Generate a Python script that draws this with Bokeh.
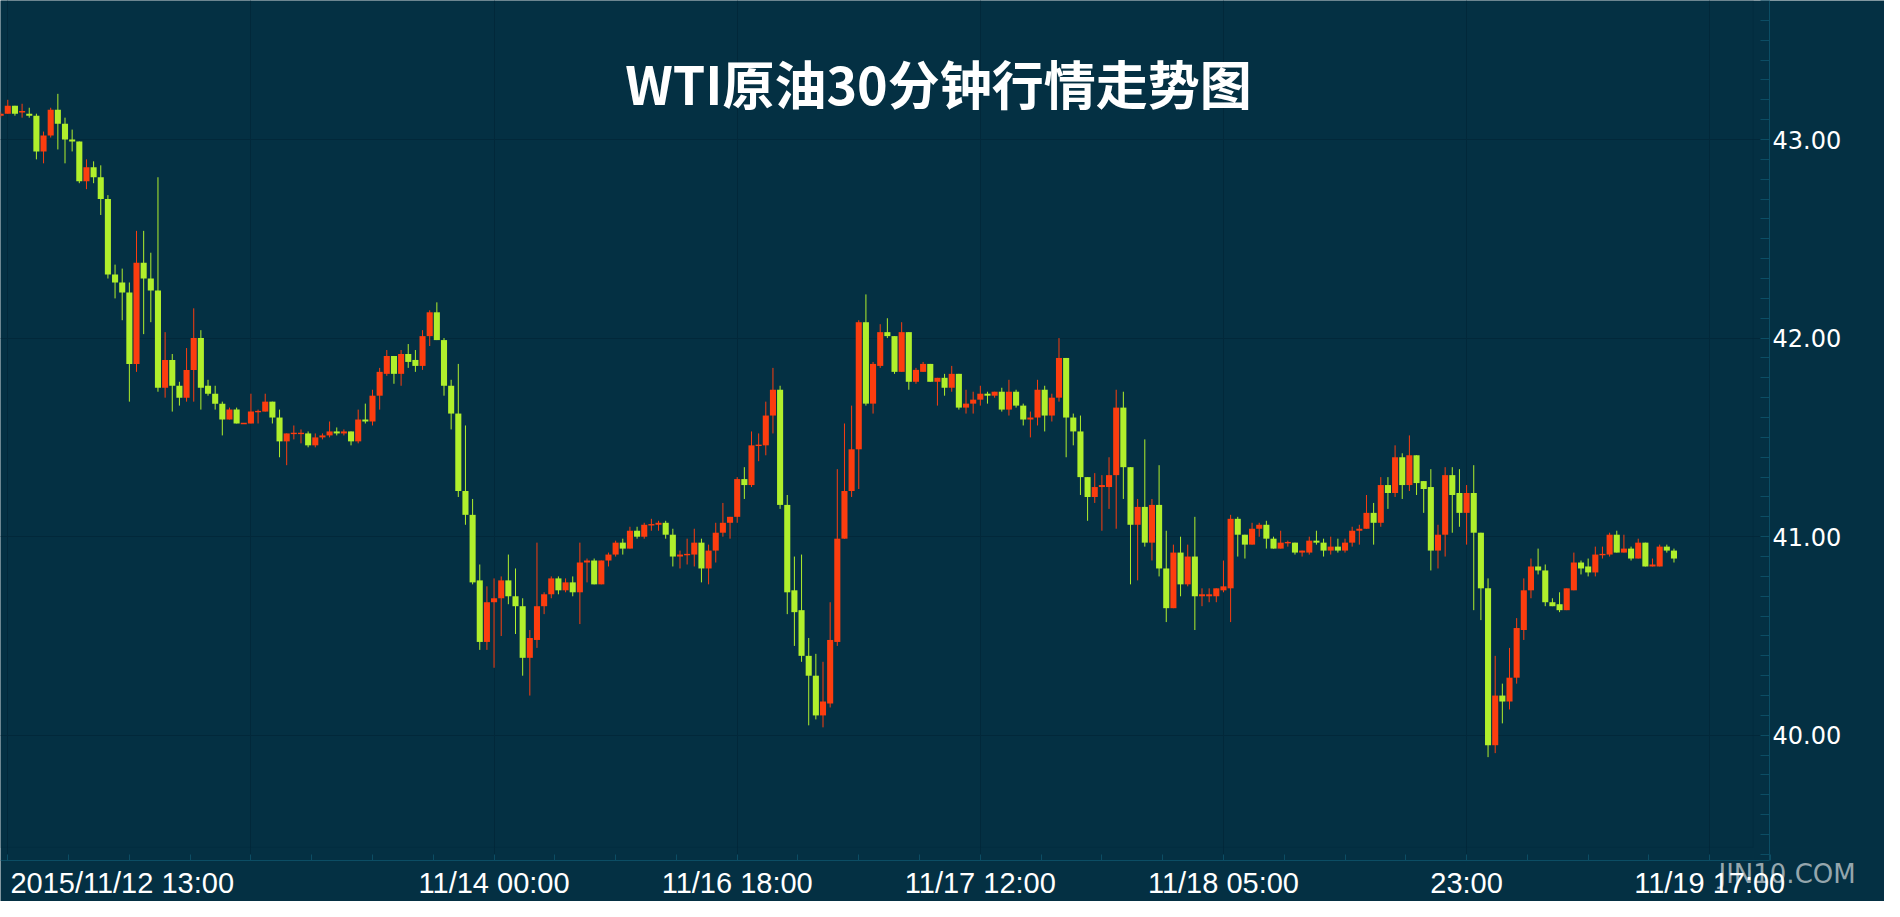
from bokeh.plotting import figure
from bokeh.models import Range1d, FixedTicker, BoxAnnotation, Label, ColumnDataSource, Grid
from bokeh.embed import file_html
from bokeh.resources import INLINE

# ---------------- data (30-minute candles, index -1 .. 233) ----------------
first_index = -1
open_ = [
    43.12, 43.13, 43.17, 43.14, 43.13, 43.12, 42.94, 43.02, 43.15, 43.08,
    43.00, 42.99, 42.79, 42.86, 42.81, 42.70, 42.32, 42.28, 42.23, 41.87,
    42.38, 42.30, 42.24, 41.75, 41.89, 41.76, 41.70, 41.84, 42.00, 41.76,
    41.72, 41.67, 41.59, 41.64, 41.57, 41.57, 41.63, 41.63, 41.68, 41.60,
    41.48, 41.52, 41.52, 41.52, 41.46, 41.50, 41.51, 41.53, 41.52, 41.53,
    41.48, 41.59, 41.58, 41.71, 41.82, 41.91, 41.82, 41.92, 41.89, 41.86,
    42.01, 42.13, 41.99, 41.76, 41.62, 41.23, 41.11, 40.78, 40.47, 40.67,
    40.69, 40.78, 40.70, 40.65, 40.39, 40.48, 40.65, 40.71, 40.79, 40.73,
    40.77, 40.72, 40.87, 40.88, 40.76, 40.88, 40.91, 40.97, 40.94, 41.03,
    41.00, 41.06, 41.06, 41.07, 41.01, 40.90, 40.91, 40.91, 40.97, 40.84,
    40.93, 41.02, 41.07, 41.10, 41.29, 41.26, 41.46, 41.46, 41.61, 41.74,
    41.16, 40.73, 40.63, 40.40, 40.30, 40.10, 40.16, 40.47, 40.99, 41.23,
    41.44, 42.08, 41.67, 41.86, 42.03, 42.01, 41.83, 42.03, 41.78, 41.83,
    41.87, 41.78, 41.80, 41.75, 41.82, 41.65, 41.67, 41.69, 41.72, 41.71,
    41.73, 41.64, 41.73, 41.66, 41.59, 41.60, 41.74, 41.61, 41.70, 41.90,
    41.60, 41.53, 41.30, 41.20, 41.25, 41.25, 41.31, 41.65, 41.35, 41.06,
    41.15, 40.97, 41.16, 40.84, 40.64, 40.92, 40.76, 40.90, 40.70, 40.70,
    40.70, 40.73, 40.74, 41.09, 41.01, 40.96, 41.04, 41.06, 40.99, 40.94,
    40.97, 40.97, 40.92, 40.92, 40.98, 40.97, 40.93, 40.95, 40.93, 40.97,
    41.03, 41.04, 41.12, 41.07, 41.26, 41.22, 41.40, 41.26, 41.41, 41.28,
    41.25, 40.93, 41.01, 41.31, 41.22, 41.12, 41.22, 41.02, 40.74, 39.95,
    40.20, 40.17, 40.29, 40.53, 40.73, 40.85, 40.83, 40.67, 40.66, 40.63,
    40.73, 40.87, 40.85, 40.82, 40.91, 40.91, 41.01, 40.92, 40.94, 40.89,
    40.97, 40.85, 40.85, 40.95, 40.93,
]
high = [
    43.14, 43.20, 43.17, 43.18, 43.16, 43.13, 43.04, 43.16, 43.23, 43.11,
    43.05, 42.99, 42.90, 42.89, 42.87, 42.72, 42.37, 42.35, 42.28, 42.54,
    42.54, 42.43, 42.81, 42.03, 41.92, 41.78, 41.95, 42.15, 42.04, 41.79,
    41.76, 41.68, 41.65, 41.65, 41.57, 41.72, 41.64, 41.72, 41.68, 41.64,
    41.52, 41.56, 41.54, 41.53, 41.52, 41.52, 41.58, 41.55, 41.54, 41.53,
    41.64, 41.67, 41.74, 41.85, 41.94, 41.91, 41.94, 41.97, 41.94, 42.04,
    42.14, 42.18, 42.00, 41.79, 41.87, 41.56, 41.19, 40.86, 40.75, 40.79,
    40.80, 40.91, 40.84, 40.69, 40.53, 40.97, 40.72, 40.80, 40.80, 40.79,
    40.80, 40.97, 40.89, 40.89, 40.88, 40.92, 40.98, 40.99, 41.05, 41.05,
    41.07, 41.09, 41.08, 41.08, 41.04, 40.93, 40.99, 41.04, 40.99, 40.96,
    41.07, 41.17, 41.10, 41.30, 41.35, 41.53, 41.52, 41.68, 41.85, 41.76,
    41.21, 40.90, 40.91, 40.49, 40.41, 40.37, 40.67, 41.34, 41.57, 41.66,
    42.09, 42.22, 41.88, 42.07, 42.10, 42.01, 42.08, 42.03, 41.85, 41.88,
    41.87, 41.80, 41.82, 41.86, 41.82, 41.74, 41.73, 41.76, 41.73, 41.73,
    41.75, 41.79, 41.74, 41.67, 41.63, 41.79, 41.76, 41.72, 42.00, 41.90,
    41.62, 41.61, 41.30, 41.32, 41.31, 41.40, 41.74, 41.73, 41.35, 41.19,
    41.49, 41.19, 41.36, 41.03, 40.96, 41.00, 40.96, 41.10, 40.74, 40.74,
    40.74, 40.88, 41.11, 41.10, 41.01, 41.07, 41.07, 41.08, 41.00, 41.03,
    40.98, 40.97, 40.93, 41.00, 41.03, 40.99, 41.00, 40.99, 40.99, 41.05,
    41.06, 41.21, 41.17, 41.30, 41.30, 41.46, 41.42, 41.51, 41.41, 41.28,
    41.34, 41.06, 41.35, 41.35, 41.34, 41.26, 41.36, 41.02, 40.79, 40.40,
    40.26, 40.44, 40.59, 40.79, 40.89, 40.94, 40.86, 40.69, 40.72, 40.74,
    40.92, 40.88, 40.89, 40.95, 40.95, 41.02, 41.03, 41.01, 40.95, 40.99,
    40.97, 40.89, 40.96, 40.96, 40.94,
]
low = [
    43.11, 43.13, 43.12, 43.11, 43.11, 42.90, 42.88, 43.01, 42.95, 42.88,
    42.94, 42.78, 42.75, 42.78, 42.62, 42.30, 42.20, 42.09, 41.68, 41.83,
    42.02, 42.08, 41.73, 41.70, 41.63, 41.66, 41.68, 41.68, 41.64, 41.71,
    41.64, 41.51, 41.59, 41.57, 41.57, 41.57, 41.57, 41.63, 41.57, 41.40,
    41.36, 41.49, 41.47, 41.45, 41.45, 41.49, 41.50, 41.51, 41.51, 41.46,
    41.47, 41.57, 41.56, 41.64, 41.81, 41.77, 41.76, 41.85, 41.83, 41.84,
    41.96, 41.99, 41.71, 41.54, 41.20, 41.06, 40.76, 40.43, 40.43, 40.34,
    40.50, 40.66, 40.51, 40.30, 40.20, 40.44, 40.61, 40.69, 40.71, 40.72,
    40.70, 40.56, 40.77, 40.76, 40.76, 40.85, 40.90, 40.91, 40.94, 40.99,
    40.99, 41.03, 41.03, 40.99, 40.85, 40.84, 40.86, 40.85, 40.77, 40.76,
    40.87, 41.00, 40.99, 41.07, 41.19, 41.25, 41.38, 41.41, 41.52, 41.14,
    40.61, 40.45, 40.37, 40.05, 40.08, 40.04, 40.14, 40.45, 40.99, 41.20,
    41.24, 41.66, 41.62, 41.85, 42.00, 41.82, 41.83, 41.74, 41.77, 41.83,
    41.78, 41.66, 41.71, 41.73, 41.64, 41.62, 41.62, 41.66, 41.67, 41.70,
    41.63, 41.61, 41.65, 41.56, 41.50, 41.56, 41.53, 41.58, 41.68, 41.40,
    41.46, 41.21, 41.08, 41.17, 41.03, 41.14, 41.04, 41.19, 40.76, 40.78,
    40.95, 40.88, 40.80, 40.57, 40.64, 40.70, 40.75, 40.53, 40.65, 40.67,
    40.67, 40.72, 40.57, 40.90, 40.89, 40.96, 41.00, 40.94, 40.94, 40.94,
    40.95, 40.91, 40.90, 40.91, 40.96, 40.90, 40.91, 40.92, 40.92, 40.95,
    40.96, 41.04, 40.96, 41.05, 41.14, 41.20, 41.19, 41.23, 41.21, 41.12,
    40.83, 40.84, 40.90, 41.02, 41.05, 40.96, 40.63, 40.58, 39.89, 39.91,
    40.06, 40.13, 40.26, 40.48, 40.69, 40.81, 40.65, 40.65, 40.62, 40.63,
    40.73, 40.81, 40.80, 40.80, 40.89, 40.90, 40.92, 40.92, 40.88, 40.89,
    40.85, 40.85, 40.85, 40.92, 40.87,
]
close = [
    43.13, 43.17, 43.13, 43.14, 43.12, 42.94, 43.02, 43.15, 43.08, 43.00,
    42.99, 42.79, 42.86, 42.81, 42.70, 42.32, 42.28, 42.23, 41.87, 42.38,
    42.30, 42.24, 41.75, 41.89, 41.76, 41.70, 41.84, 42.00, 41.75, 41.72,
    41.67, 41.59, 41.64, 41.57, 41.57, 41.63, 41.63, 41.68, 41.60, 41.48,
    41.52, 41.52, 41.52, 41.46, 41.50, 41.51, 41.53, 41.52, 41.53, 41.48,
    41.59, 41.58, 41.71, 41.83, 41.91, 41.82, 41.92, 41.88, 41.86, 42.01,
    42.13, 41.99, 41.76, 41.62, 41.23, 41.11, 40.77, 40.47, 40.67, 40.69,
    40.78, 40.70, 40.65, 40.39, 40.49, 40.65, 40.71, 40.79, 40.73, 40.77,
    40.72, 40.87, 40.88, 40.76, 40.88, 40.91, 40.97, 40.94, 41.03, 41.00,
    41.06, 41.06, 41.07, 41.01, 40.90, 40.91, 40.91, 40.97, 40.84, 40.93,
    41.02, 41.07, 41.10, 41.29, 41.26, 41.46, 41.46, 41.61, 41.74, 41.16,
    40.72, 40.62, 40.40, 40.30, 40.10, 40.17, 40.48, 40.99, 41.23, 41.44,
    42.08, 41.67, 41.87, 42.03, 42.01, 41.83, 42.03, 41.78, 41.84, 41.87,
    41.78, 41.80, 41.75, 41.82, 41.65, 41.67, 41.69, 41.72, 41.71, 41.73,
    41.64, 41.73, 41.66, 41.59, 41.60, 41.74, 41.61, 41.70, 41.90, 41.60,
    41.53, 41.30, 41.20, 41.25, 41.26, 41.31, 41.65, 41.35, 41.06, 41.15,
    40.97, 41.16, 40.84, 40.64, 40.92, 40.76, 40.90, 40.70, 40.71, 40.71,
    40.74, 40.75, 41.09, 41.01, 40.96, 41.04, 41.06, 40.99, 40.94, 40.97,
    40.97, 40.92, 40.93, 40.98, 40.97, 40.93, 40.95, 40.93, 40.97, 41.03,
    41.04, 41.12, 41.07, 41.26, 41.22, 41.40, 41.26, 41.41, 41.27, 41.24,
    40.93, 41.01, 41.31, 41.21, 41.12, 41.22, 41.02, 40.74, 39.95, 40.20,
    40.17, 40.29, 40.54, 40.73, 40.85, 40.83, 40.67, 40.65, 40.63, 40.74,
    40.87, 40.84, 40.82, 40.91, 40.91, 41.01, 40.92, 40.94, 40.89, 40.97,
    40.85, 40.86, 40.95, 40.93, 40.89,
]

title_text = "WTI原油30分钟行情走势图"
watermark_text = "JIN10.COM"
x_label_index = [0, 68, 102, 136, 170, 204, 238]
x_labels = ["2015/11/12 13:00", "11/14 00:00", "11/16 18:00", "11/17 12:00",
            "11/18 05:00", "23:00", "11/19 17:00"]
x_grid_index = [0, 34, 68, 102, 136, 170, 204, 238]
y_ticks = [40, 41, 42, 43]
y_labels = ["40.00", "41.00", "42.00", "43.00"]

# ---------------- style ----------------
BG = "#043043"
GRID = "#02283a"
AXIS = "#0c4d64"
UP = "#fc3d0f"
DOWN = "#b0ef2c"

X0, X1 = -1.02, 262.44          # frame covers the whole canvas width
X_AXIS = 246.36                 # index position where the price axis line sits
Y_AXIS = 39.37                  # price level where the time axis line sits
Y_TOP, Y_BOTTOM = 43.70, 39.163 # frame covers the whole canvas height
INNER_RIGHT, INNER_BOTTOM = 244.1, 39.435

n = len(open_)
xs = [first_index + k for k in range(n)]
top, bottom, colors = [], [], []
for o, c in zip(open_, close):
    t, b = max(o, c), min(o, c)
    if t - b < 0.007:
        m = (t + b) / 2
        t, b = m + 0.0035, m - 0.0035
    top.append(t)
    bottom.append(b)
    colors.append(UP if c >= o else DOWN)

src = ColumnDataSource(dict(x=xs, high=high, low=low, top=top, bottom=bottom, color=colors))

p = figure(width=1884, height=901, output_backend="svg", toolbar_location=None,
           x_range=Range1d(X0, X1), y_range=Range1d(Y_BOTTOM, Y_TOP),
           y_axis_location="right",
           min_border_left=0, min_border_top=0, min_border_right=0, min_border_bottom=0)
p.background_fill_color = BG
p.border_fill_color = BG
p.outline_line_color = None

# grids
p.xgrid.ticker = FixedTicker(ticks=x_grid_index)
p.ygrid.ticker = FixedTicker(ticks=y_ticks)
for g in (p.xgrid[0], p.ygrid[0]):
    g.grid_line_color = GRID
    g.grid_line_width = 1
if "cross_bounds" in Grid.properties():
    p.xgrid[0].cross_bounds = (Y_AXIS, Y_TOP)
    p.ygrid[0].cross_bounds = (X0, X_AXIS)
else:
    p.xgrid[0].visible = False
    p.ygrid[0].visible = False
    p.segment(x0=x_grid_index, x1=x_grid_index, y0=[Y_AXIS] * len(x_grid_index),
              y1=[Y_TOP] * len(x_grid_index), line_color=GRID, line_width=1)
    p.segment(x0=[X0] * len(y_ticks), x1=[X_AXIS] * len(y_ticks), y0=y_ticks,
              y1=y_ticks, line_color=GRID, line_width=1)

# inner plot box
p.add_layout(BoxAnnotation(left=X0, right=INNER_RIGHT, bottom=INNER_BOTTOM, top=Y_TOP,
                           fill_color=None, line_color=GRID, line_width=1))

# watermark, drawn beneath the axis labels
p.add_layout(Label(x=1718, y=28, x_units="screen", y_units="screen", text=watermark_text,
                   text_align="left", text_baseline="middle", text_color="#95a6ad",
                   text_font="DejaVu Sans", text_font_size="26px", level="underlay"))

# candles
p.segment(x0="x", y0="low", x1="x", y1="high", source=src, line_color="color", line_width=1)
p.vbar(x="x", width=0.85, top="top", bottom="bottom", source=src,
       fill_color="color", line_color=None)

# x axis (pinned at the axis price level)
step = (x_grid_index[1] - x_grid_index[0]) / 4
minor_x = [step * k for k in range(0, 30)]
label_pos = [16] + x_label_index[1:]
xa = p.xaxis[0]
xa.fixed_location = Y_AXIS
xa.bounds = (X0, X_AXIS)
xa.ticker = FixedTicker(ticks=label_pos, minor_ticks=minor_x)
xa.major_label_overrides = {pos: lab for pos, lab in zip(label_pos, x_labels)}
xa.axis_line_color = AXIS
xa.major_tick_line_color = None
xa.major_tick_in = 0
xa.major_tick_out = 0
xa.minor_tick_line_color = AXIS
xa.minor_tick_in = 6
xa.minor_tick_out = 0
xa.major_label_standoff = 7
xa.major_label_text_color = "white"
xa.major_label_text_font = "Liberation Sans"
xa.major_label_text_font_size = "29px"

# y axis (pinned at the axis index position)
minor_y = [round(39.4 + 0.1 * k, 2) for k in range(0, 44)]
ya = p.yaxis[0]
ya.fixed_location = X_AXIS
ya.bounds = (Y_AXIS, Y_TOP)
ya.ticker = FixedTicker(ticks=y_ticks, minor_ticks=minor_y)
ya.major_label_overrides = {t: lab for t, lab in zip(y_ticks, y_labels)}
ya.axis_line_color = AXIS
ya.major_tick_line_color = None
ya.major_tick_in = 0
ya.major_tick_out = 0
ya.minor_tick_line_color = AXIS
ya.minor_tick_in = 9
ya.minor_tick_out = 0
ya.major_label_standoff = 3
ya.major_label_text_color = "white"
ya.major_label_text_font = "DejaVu Sans"
ya.major_label_text_font_size = "24px"

# title (screen units from the frame's bottom-left corner)
p.add_layout(Label(x=938, y=819, x_units="screen", y_units="screen", text=title_text,
                   text_align="center", text_baseline="middle", text_color="white",
                   text_font="Noto Sans CJK SC", text_font_style="bold",
                   text_font_size="52px"))

open("out.html", "w").write(file_html(p, INLINE))
